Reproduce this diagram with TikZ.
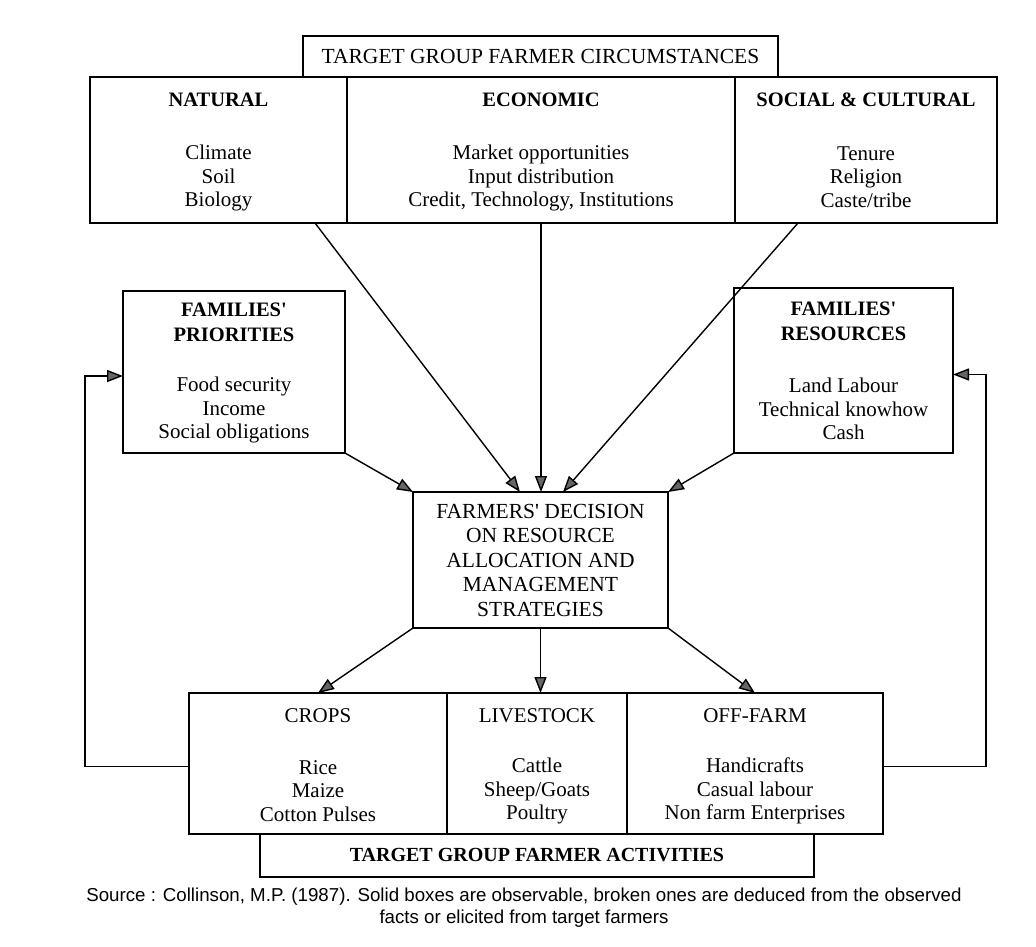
\documentclass[tikz,border=0pt]{standalone}
\usepackage{fontspec}
\setmainfont{Liberation Serif}[Ligatures=TeXOff]
\newfontfamily\capfont{Liberation Sans}
\usetikzlibrary{arrows.meta, positioning}

\begin{document}
\begin{tikzpicture}[x=1pt, y=-1pt,
    box/.style={draw, line width=1.3pt, inner sep=0pt, outer sep=0pt},
    head/.style={font=\fontsize{20.5}{24.5}\selectfont\bfseries, align=center},
    items/.style={font=\fontsize{21}{23.5}\selectfont, align=center},
    arr/.style={line width=1.4pt, -{Triangle[length=16pt, width=12pt, fill=black!60]}}
  ]
  \useasboundingbox (0,0) rectangle (1036,947);

  % circumstances
  \node [box, minimum width=475pt, minimum height=41pt, font=\fontsize{21.5}{24}\selectfont] (circ) at (540.5,56.5) {TARGET GROUP FARMER CIRCUMSTANCES};
  \node [box, minimum width=257pt, minimum height=146pt] (natural) at (218.5,150) {};
  \node [box, minimum width=388pt, minimum height=146pt, right=0pt of natural] (economic) {};
  \node [box, minimum width=262pt, minimum height=146pt, right=0pt of economic] (social) {};

  \node [head] (naturalh) at ([yshift=-23pt]natural.north) {NATURAL};
  \node [items] (naturali) at ([yshift=-101pt]natural.north) {Climate\\Soil\\Biology};
  \node [head] (economich) at ([yshift=-23pt]economic.north) {ECONOMIC};
  \node [items] (economici) at ([yshift=-101pt]economic.north) {Market opportunities\\Input distribution\\Credit, Technology, Institutions};
  \node [head] (socialh) at ([yshift=-23pt]social.north) {SOCIAL \& CULTURAL};
  \node [items] (sociali) at ([yshift=-100pt]social.north) {Tenure\\Religion\\Caste/tribe};

  % families
  \node [box, minimum width=222pt, minimum height=162pt] (prio) at (234,372) {};
  \node [head] (prioh) at ([yshift=-31.5pt]prio.north) {FAMILIES'\\PRIORITIES};
  \node [items] (prioi) at ([yshift=-119pt]prio.north) {Food security\\Income\\Social obligations};
  \node [box, minimum width=219pt, minimum height=165pt] (res) at (843.5,370.5) {};
  \node [head] (resh) at ([yshift=-33.5pt]res.north) {FAMILIES'\\RESOURCES};
  \node [items] (resi) at ([yshift=-121pt]res.north) {Land Labour\\Technical knowhow\\Cash};

  % decision
  \node [box, minimum width=255pt, minimum height=136pt, align=center, font=\fontsize{21.5}{24.5}\selectfont] (decision) at (540.5,560)
    {FARMERS' DECISION\\ON RESOURCE\\ALLOCATION AND\\MANAGEMENT\\STRATEGIES};

  % activities
  \node [box, minimum width=258pt, minimum height=141pt] (crops) at (318,763.5) {};
  \node [box, minimum width=180pt, minimum height=141pt, right=0pt of crops] (livestock) {};
  \node [box, minimum width=256pt, minimum height=141pt, right=0pt of livestock] (offfarm) {};
  \node [box, minimum width=554pt, minimum height=43pt, font=\fontsize{20}{24}\selectfont\bfseries, below=0pt of livestock.south] (act) {TARGET GROUP FARMER ACTIVITIES};

  \node [items] (cropsh) at ([yshift=-23pt]crops.north) {CROPS};
  \node [items] (cropsi) at ([yshift=-98pt]crops.north) {Rice\\Maize\\Cotton Pulses};
  \node [items] (livestockh) at ([yshift=-23pt]livestock.north) {LIVESTOCK};
  \node [items] (livestocki) at ([yshift=-98pt]livestock.north) {Cattle\\Sheep/Goats\\Poultry};
  \node [items] (offfarmh) at ([yshift=-23pt]offfarm.north) {OFF-FARM};
  \node [items] (offfarmi) at ([yshift=-98pt]offfarm.north) {Handicrafts\\Casual labour\\Non farm Enterprises};

  % arrows into the decision
  \draw [arr] ([xshift=-32pt]natural.south east) -- ([xshift=107pt]decision.north west);
  \draw [arr] (economic.south) -- (economic.south |- decision.north);
  \draw [arr] ([xshift=63pt]social.south west) -- ([xshift=-105pt]decision.north east);
  \draw [arr] (prio.south east) -- (decision.north west);
  \draw [arr] (res.south west) -- (decision.north east);

  % arrows out of it
  \draw [arr] (decision.south west) -- (crops.north);
  \draw [arr] (decision.south) -- (decision.south |- livestock.north);
  \draw [arr] (decision.south east) -- (offfarm.north);

  % feedback
  \draw [arr] ([yshift=-3pt]crops.west) -- ++(-104,0) |- ([yshift=-4pt]prio.west);
  \draw [arr] ([yshift=-3pt]offfarm.east) -- ++(103,0) |- ([yshift=-4pt]res.east);

  \node [font=\capfont\fontsize{18.7}{22}\selectfont, align=center] (source) at (524,908)
    {Source : Collinson, M.P. (1987). Solid boxes are observable, broken ones are deduced from the observed\\facts or elicited from target farmers};
\end{tikzpicture}
\end{document}
